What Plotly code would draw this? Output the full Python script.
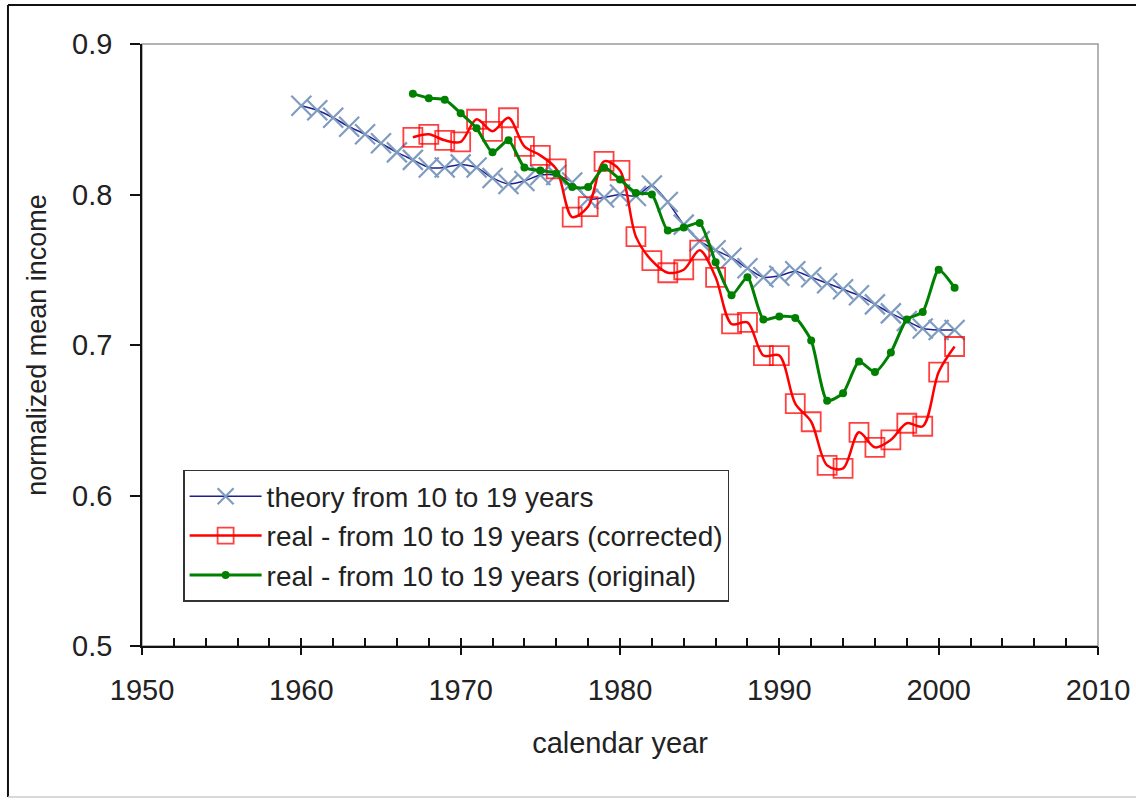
import plotly.graph_objects as go

theory_years = list(range(1960, 2002))
theory_vals = [0.859, 0.856, 0.851, 0.845, 0.840, 0.834, 0.828, 0.823, 0.818, 0.818,
               0.820, 0.818, 0.811, 0.807, 0.809, 0.813, 0.813, 0.808, 0.797, 0.798,
               0.800, 0.799, 0.806, 0.795, 0.780, 0.769, 0.763, 0.758, 0.751, 0.745,
               0.746, 0.749, 0.745, 0.741, 0.737, 0.733, 0.727, 0.721, 0.716, 0.711,
               0.710, 0.710]

real_years = list(range(1967, 2002))
corrected_vals = [0.838, 0.840, 0.836, 0.835, 0.850, 0.842, 0.851, 0.832, 0.826, 0.817,
                  0.785, 0.792, 0.822, 0.816, 0.772, 0.756, 0.748, 0.750, 0.763, 0.745,
                  0.714, 0.715, 0.693, 0.693, 0.661, 0.649, 0.620, 0.618, 0.642, 0.632,
                  0.637, 0.648, 0.646, 0.682, 0.699]
original_vals = [0.867, 0.864, 0.863, 0.854, 0.844, 0.828, 0.836, 0.818, 0.816, 0.814,
                 0.805, 0.805, 0.818, 0.810, 0.801, 0.800, 0.776, 0.778, 0.781, 0.755,
                 0.733, 0.745, 0.717, 0.719, 0.718, 0.703, 0.663, 0.668, 0.689, 0.682,
                 0.695, 0.717, 0.722, 0.750, 0.738]

names = ["theory from 10 to 19 years",
         "real - from 10 to 19 years (corrected)",
         "real - from 10 to 19 years (original)"]

FONT = "Liberation Sans, Arial, sans-serif"
TXT = "#222222"
FS = 29

fig = go.Figure()
fig.add_trace(go.Scatter(
    x=theory_years, y=theory_vals, name=names[0], mode="lines+markers",
    line=dict(color="#1f1f8f", width=1.5, shape="spline", smoothing=0.6),
    marker=dict(symbol="x-thin", size=20, line=dict(color="#7f9cc0", width=2.2))))
fig.add_trace(go.Scatter(
    x=real_years, y=corrected_vals, name=names[1], mode="lines+markers",
    line=dict(color="#ff0000", width=2.5, shape="spline", smoothing=0.9),
    marker=dict(symbol="square-open", size=19, color="rgba(255,0,0,0.75)",
                line=dict(width=1.8))))
fig.add_trace(go.Scatter(
    x=real_years, y=original_vals, name=names[2], mode="lines+markers",
    line=dict(color="#008000", width=3, shape="spline", smoothing=0.6),
    marker=dict(symbol="circle", size=8, color="#008000")))
# invisible helper trace so the overlay axis (for crossing major ticks) is drawn
fig.add_trace(go.Scatter(x=theory_years, y=theory_vals, xaxis="x2", mode="markers",
                         marker=dict(opacity=0), showlegend=False, hoverinfo="skip"))

axis_common = dict(showgrid=False, zeroline=False, linecolor="#111111", linewidth=1.5,
                   tickcolor="#111111", tickwidth=1.5, automargin=False,
                   tickfont=dict(family=FONT, size=FS, color=TXT))

fig.update_layout(
    width=1136, height=803,
    margin=dict(l=142, r=38, t=44, b=157, autoexpand=False),
    paper_bgcolor="white", plot_bgcolor="white",
    font=dict(family=FONT, size=FS, color=TXT),
    xaxis=dict(range=[1950, 2010], dtick=10, tick0=1950, ticks="inside", ticklen=8,
               showline=True,
               minor=dict(dtick=2, tick0=1950, ticks="inside", ticklen=8,
                          tickcolor="#111111", tickwidth=1.5),
               ticklabelstandoff=17,
               title=dict(text="calendar year", font=dict(family=FONT, size=FS, color=TXT),
                          standoff=28),
               **axis_common),
    xaxis2=dict(range=[1950, 2010], dtick=10, tick0=1950, ticks="outside", ticklen=8,
                overlaying="x", anchor="y", side="bottom", showticklabels=False,
                showline=False, showgrid=False, zeroline=False, automargin=False,
                tickcolor="#111111", tickwidth=1.5),
    yaxis=dict(range=[0.5, 0.9], dtick=0.1, tick0=0.5, tickformat=".1f",
               ticks="outside", ticklen=10, showline=True, ticklabelstandoff=12,
               title=dict(text="normalized mean income",
                          font=dict(family=FONT, size=27, color=TXT), standoff=18),
               **axis_common),
    legend=dict(x=0.043, y=0.2924, xanchor="left", yanchor="top",
                bgcolor="white", bordercolor="#333333", borderwidth=1.5,
                font=dict(family=FONT, size=28, color=TXT),
                itemwidth=72, tracegroupgap=0),
    showlegend=True,
    shapes=[
        dict(type="rect", xref="paper", yref="paper", x0=0, y0=0, x1=1, y1=1,
             line=dict(color="#9a9a9a", width=1.5), layer="below"),
        dict(type="line", xref="paper", yref="paper", x0=-0.1402, x1=1.05, y0=1.0648, y1=1.0648,
             line=dict(color="#111111", width=2)),
        dict(type="line", xref="paper", yref="paper", x0=-0.1402, x1=-0.1402, y0=1.0648, y1=-0.2508,
             line=dict(color="#111111", width=2)),
        dict(type="line", xref="paper", yref="paper", x0=-0.1402, x1=1.05, y0=-0.2508, y1=-0.2508,
             line=dict(color="#cccccc", width=1.5)),
    ],
)

fig.write_html("out.html")
